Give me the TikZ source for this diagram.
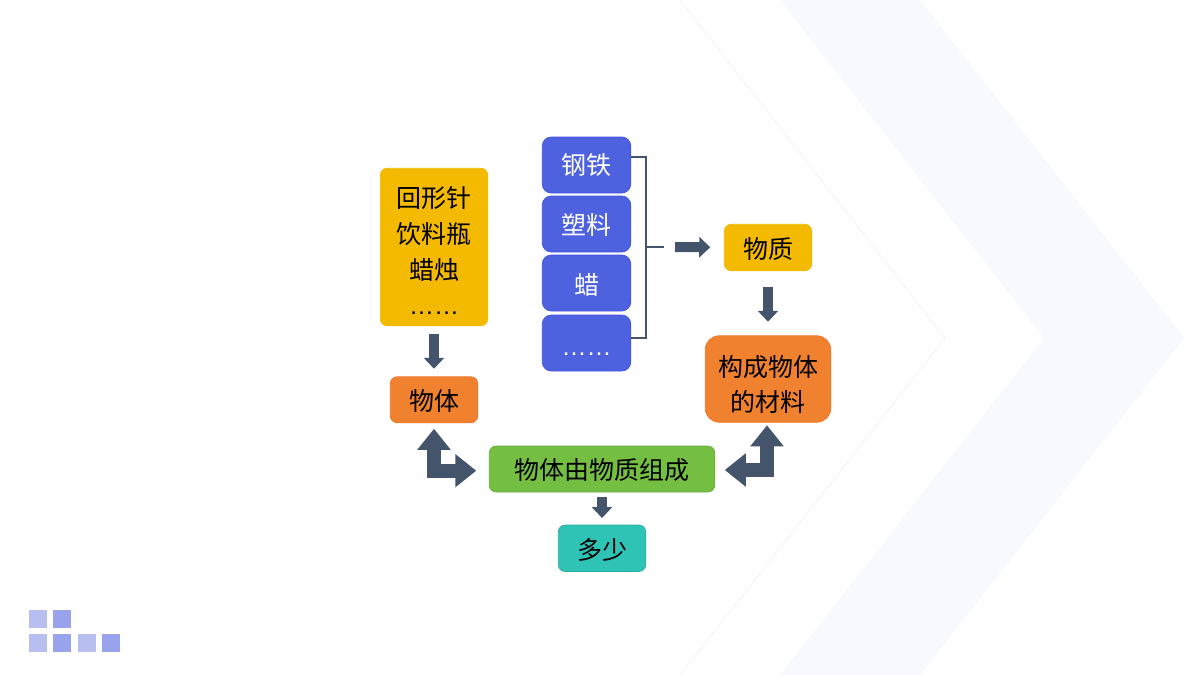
\documentclass[tikz,border=0pt]{standalone}
\usepackage{fontspec}
\setmainfont{Noto Sans CJK SC}
\newfontfamily\dotsfont{Liberation Sans}
\usetikzlibrary{arrows.meta,positioning}

\definecolor{bandcol}{HTML}{F8F9FE}
\definecolor{thincol}{HTML}{EEF0F8}
\definecolor{arrowcol}{HTML}{44546A}
\definecolor{yellowcol}{HTML}{F4BA00}
\definecolor{orangecol}{HTML}{F0812F}
\definecolor{bluecol}{HTML}{4E62E0}
\definecolor{greencol}{HTML}{74BE42}
\definecolor{tealcol}{HTML}{2EC3B5}
\definecolor{lightsq}{HTML}{B8BFF0}
\definecolor{darksq}{HTML}{98A3EC}

\newcommand{\dotline}{{\dotsfont ……}}
\newcommand{\low}[2]{\raisebox{-#1}[\height][\depth]{#2}}

\begin{document}
\begin{tikzpicture}[x=1pt,y=-1pt,semithick]
    \tikzstyle{box}=[rectangle,rounded corners=7pt,inner sep=0pt,outer sep=0pt,line width=0.7pt,
      align=center,text=black,font=\fontsize{25}{36}\selectfont]
    \tikzstyle{yellowbox}=[box,fill=yellowcol,draw=yellowcol]
    \tikzstyle{orangebox}=[box,fill=orangecol,draw=orangecol!90!red]
    \tikzstyle{bluebox}=[box,fill=bluecol,draw=bluecol!85!blue,text=white,rounded corners=9pt,
      minimum width=88.5pt,minimum height=56pt]
    \tikzstyle{greenbox}=[box,fill=greencol,draw=greencol!90!black]
    \tikzstyle{tealbox}=[box,fill=tealcol,draw=tealcol!90!black]
    \tikzstyle{blockarrow}=[draw=arrowcol,line width=10pt,-{Triangle[width=20pt,length=11pt]}]
    \tikzstyle{bentarrow}=[draw=arrowcol,line width=14pt,miter limit=10,
      {Triangle[width=32pt,length=21pt]}-{Triangle[width=32pt,length=21pt]}]
    \tikzstyle{square}=[inner sep=0pt,outer sep=0pt,minimum size=18pt]

    \useasboundingbox (0,0) rectangle (1200,675);

    % background
    \fill[white] (0,0) rectangle (1200,675);
    \fill[bandcol] (780,0) -- (920,0) -- (1184,338) -- (920,675) -- (780,675) -- (1044,338) -- cycle;
    \draw[thincol,line width=0.6pt] (680,0) -- (945,338) -- (680,675);

    % squares
    \node[square,fill=lightsq] (s1) at (38,619) {};
    \node[square,fill=darksq]  (s2) at (62,619) {};
    \node[square,fill=lightsq] (s3) at (38,643) {};
    \node[square,fill=darksq]  (s4) at (62,643) {};
    \node[square,fill=lightsq] (s5) at (87,643) {};
    \node[square,fill=darksq]  (s6) at (111,643) {};

    \node[yellowbox,minimum width=107.5pt,minimum height=157.5pt] (huixing) at (434,247)
      {\low{4pt}{回形针}\\\low{4pt}{饮料瓶}\\\low{4pt}{蜡烛}\\\low{3pt}{\dotline}};
    \node[orangebox,minimum width=87.5pt,minimum height=46pt] (wuti) [below=51pt of huixing]
      {\low{1.5pt}{物体}};

    \node[bluebox] (gang) at (586.5,165) {\low{0.5pt}{钢铁}};
    \node[bluebox] (suliao) [below=3pt of gang] {\low{1pt}{塑料}};
    \node[bluebox] (la) [below=3pt of suliao] {\low{2pt}{蜡}};
    \node[bluebox] (more) [below=4pt of la] {\low{11pt}{\dotline}};

    \node[yellowbox,minimum width=87.5pt,minimum height=46.5pt] (wuzhi) at (768,247.5) {\low{1pt}{物质}};
    \node[orangebox,rounded corners=14pt,minimum width=125.5pt,minimum height=86.5pt] (cailiao)
      [below=65pt of wuzhi] {\low{5.5pt}{构成物体}\\\low{5pt}{的材料}};
    \node[greenbox,minimum width=225.5pt,minimum height=46pt] (zucheng) at (602,469) {\low{1.5pt}{物体由物质组成}};
    \node[tealbox,minimum width=87.5pt,minimum height=46.5pt] (duoshao) [below=33pt of zucheng] {\low{2pt}{多少}};

    \coordinate (brk) at (664,247);
    \coordinate (mid) at (646,247);

    % bracket
    \draw[arrowcol,line width=2pt] ([yshift=8.5pt]gang.east) -| ([yshift=5pt]more.east -| mid)
      -- ([yshift=5pt]more.east);
    \draw[arrowcol,line width=2pt] (mid) -- (brk);

    \draw[blockarrow,shorten <=8pt,shorten >=8pt] (huixing) -- (wuti);
    \draw[blockarrow,shorten <=16pt,shorten >=14pt] (wuzhi) -- (cailiao);
    \draw[blockarrow,shorten <=11pt,shorten >=14pt] (brk) -- (wuzhi);
    \draw[blockarrow,shorten <=5pt,shorten >=7pt] (zucheng) -- (duoshao);
    \draw[bentarrow,shorten <=6pt,shorten >=13pt] (wuti) |- ([yshift=-1.7pt]zucheng.west);
    \draw[bentarrow,shorten <=3pt,shorten >=10pt] ([xshift=-1pt]cailiao.south) |- ([yshift=-1pt]zucheng.east);
\end{tikzpicture}
\end{document}
